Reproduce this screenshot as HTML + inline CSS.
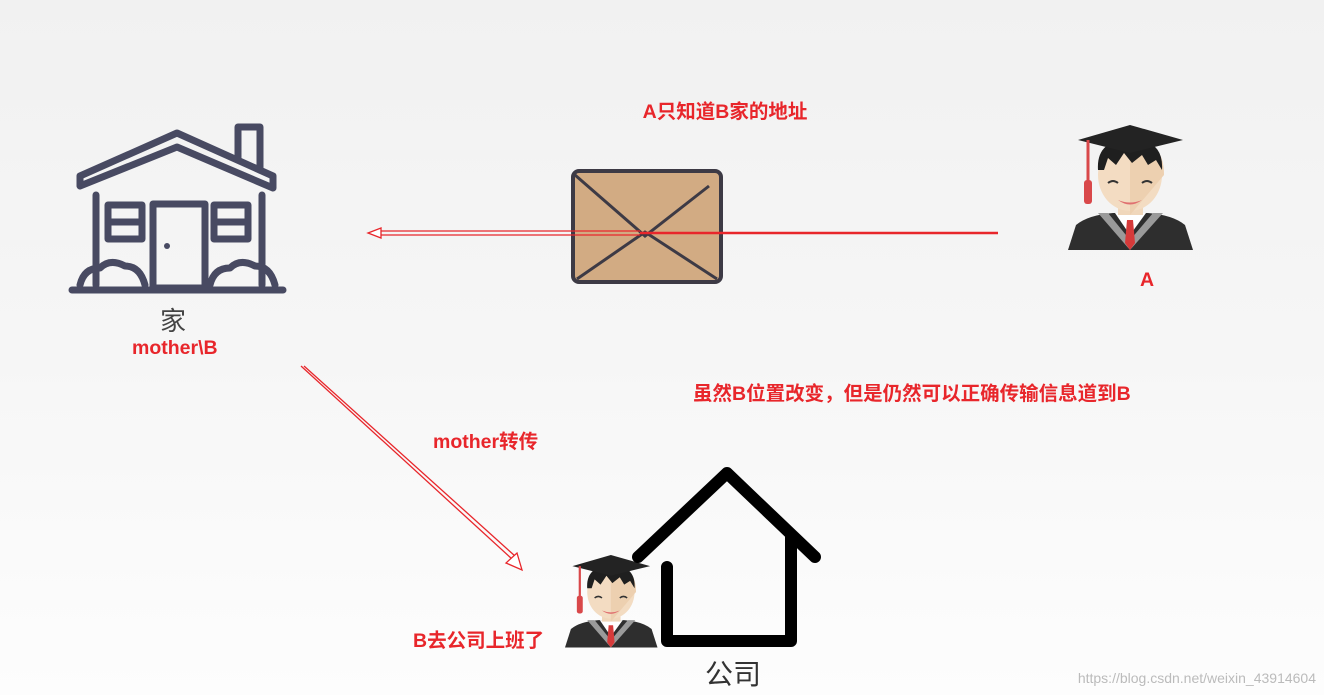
<!DOCTYPE html>
<html><head><meta charset="utf-8"><style>
body{margin:0;width:1324px;height:695px;overflow:hidden;background:linear-gradient(#f1f1f1 0%,#f6f6f6 50%,#fdfdfd 100%);}
svg{position:absolute;left:0;top:0}
.r{fill:#e8262b;font-family:"Liberation Sans","Noto Sans CJK SC",sans-serif;font-weight:bold;font-size:19.5px}
</style></head><body>
<svg width="1324" height="695" viewBox="0 0 1324 695">
<defs>
<g id="stu">
 <path d="M0,125 L8,100 Q20,90 45,88 L80,88 Q105,90 117,100 L125,125 Z" fill="#2e2e2e"/>
 <path d="M30,88 L62,125 L95,88 L85,88 L62,115 L40,88Z" fill="#9a9a9a"/>
 <path d="M47,88 L62,110 L78,88Z" fill="#fff"/>
 <path d="M59,95 L65,95 L67,118 L62,125 L57,118Z" fill="#d63a3a"/>
 <rect x="50" y="70" width="25" height="20" fill="#f0d7bb"/>
 <ellipse cx="62" cy="50" rx="32" ry="36" fill="#f3dcc2"/>
 <path d="M62,14 Q96,14 96,50 L62,90Z" fill="#edd0b0"/>
 <path d="M30,45 Q28,15 62,14 Q96,14 94,45 L88,35 L80,40 L74,30 L64,38 L56,28 L48,40 L40,33 L36,45Z" fill="#1f1f1f"/>
 <path d="M50,75 Q62,80 74,75 Q62,84 50,75" fill="#e07070"/>
 <path d="M40,58 Q45,54 50,58 M74,58 Q79,54 84,58" stroke="#333" stroke-width="2" fill="none"/>
 <path d="M10,15 L62,0 L115,15 L62,28Z" fill="#232323"/>
 <line x1="20" y1="15" x2="20" y2="60" stroke="#d9484a" stroke-width="3"/>
 <rect x="16" y="55" width="8" height="24" rx="3" fill="#d9484a"/>
</g>
</defs>

<g fill="none" stroke="#484a62" stroke-width="7" stroke-linejoin="round" stroke-linecap="round">
 <path d="M80,186 L80,176 L177,133 L273,176 L273,188 L177,147 Z"/>
 <path d="M96,195 L96,285 M262,195 L262,285"/>
 <path d="M72,290 L283,290"/>
 <rect x="153" y="204" width="52" height="84"/>
 <rect x="108" y="205" width="34" height="34"/><path d="M108,222 H142"/>
 <rect x="214" y="205" width="34" height="34"/><path d="M214,222 H248"/>
 <path d="M238,160 L238,127 L260,127 L260,170"/>
 <path d="M80,285 Q84,268 100,268 Q110,258 125,266 Q140,266 145,285"/>
 <path d="M210,285 Q214,268 230,268 Q240,258 255,266 Q270,266 275,285"/>
</g>
<circle cx="167" cy="246" r="3" fill="#484a62"/>
<text x="173" y="330" font-size="26" fill="#444" text-anchor="middle" font-family="Noto Sans CJK SC,sans-serif">家</text>

<rect x="573" y="171" width="148" height="111" rx="6" fill="#d2ab83" stroke="#3d3a45" stroke-width="4"/>
<path d="M575,175 L645,236 L709,186 M577,279 L645,232 L717,279" stroke="#3d3a45" stroke-width="3" fill="none"/>

<use href="#stu" x="1068" y="125"/>
<g transform="translate(565,555) scale(0.74)"><use href="#stu"/></g>

<g fill="none" stroke="#000" stroke-width="12" stroke-linecap="round" stroke-linejoin="round">
 <path d="M638,557 L727,473 L815,557"/>
 <path d="M667,567 L667,641 L791,641 L791,538"/>
</g>
<text x="733" y="684" font-size="28" fill="#333" text-anchor="middle" font-family="Noto Sans CJK SC,sans-serif">公司</text>

<g stroke="#e8262b" fill="none" stroke-width="1.3">
 <path d="M640,233 L998,233" stroke-width="2.5"/>
 <path d="M381,231 L640,231 M381,235 L640,235"/>
 <path d="M381,228 L368,233 L381,238 Z" fill="#fff"/>
 <path d="M301,366 L512,559"/>
 <path d="M304,366 L515,556"/>
 <path d="M506,563 L522,570 L517,553 Z" fill="#fff"/>
</g>

<text class="r" x="725" y="118" text-anchor="middle">A只知道B家的地址</text>
<text class="r" x="1147" y="286" text-anchor="middle">A</text>
<text class="r" x="132" y="354">mother\B</text>
<text class="r" x="693" y="400">虽然B位置改变，但是仍然可以正确传输信息道到B</text>
<text class="r" x="433" y="448">mother转传</text>
<text class="r" x="413" y="647">B去公司上班了</text>
<text x="1316" y="683" text-anchor="end" font-size="14" fill="#bbb" font-family="Liberation Sans,sans-serif">https://blog.csdn.net/weixin_43914604</text>
</svg>
</body></html>
